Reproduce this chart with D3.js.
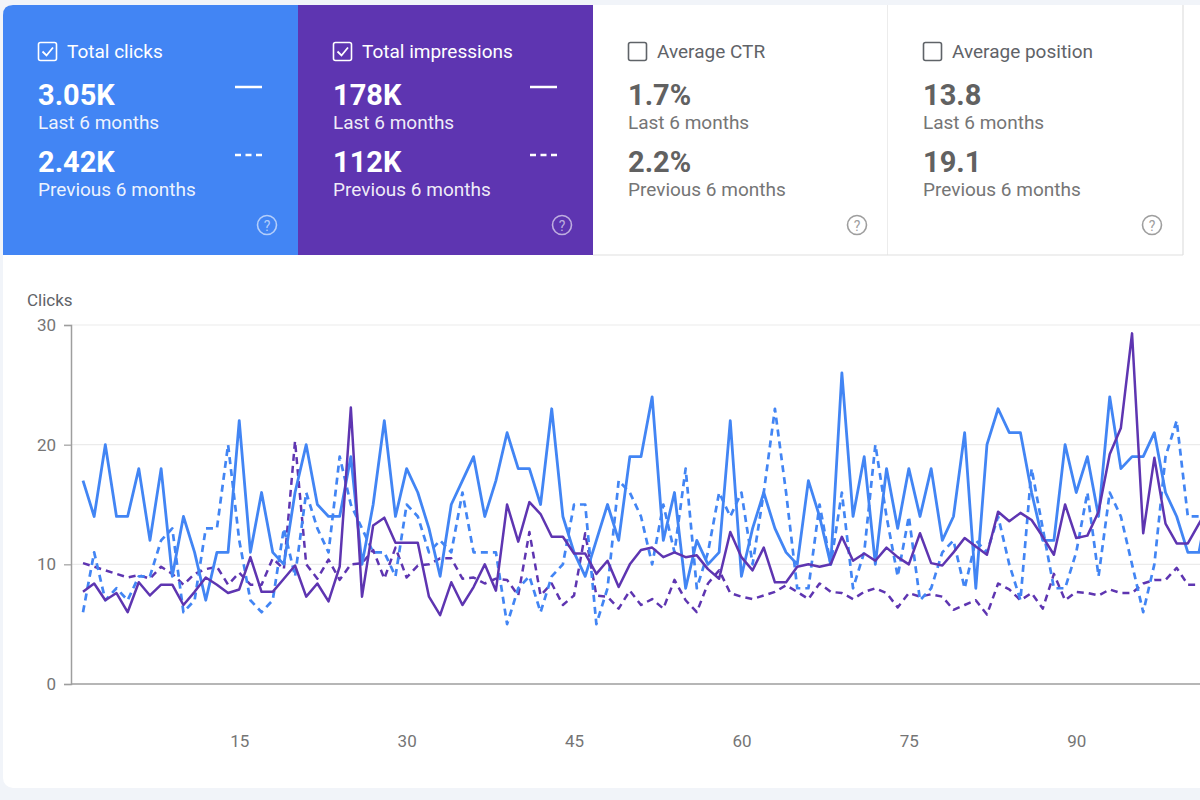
<!DOCTYPE html>
<html><head><meta charset="utf-8">
<script src="https://cdn.jsdelivr.net/npm/d3@7"></script>
<style>
html,body{margin:0;padding:0;background:#f1f4f9;overflow:hidden}
svg{display:block;font-family:Roboto,"Noto Sans",Arial,sans-serif}
</style></head><body>
<svg id="chart" width="1200" height="800"></svg>
<script>
// ---- summary cards ----
const metricNames = ["Total clicks", "Total impressions", "Average CTR", "Average position"];
const currentValues = ["3.05K", "178K", "1.7%", "13.8"];
const previousValues = ["2.42K", "112K", "2.2%", "19.1"];
const periodLabels = ["Last 6 months", "Previous 6 months"];
const selectedMetrics = [true, true, false, false];

// ---- daily series ----
const clicksCurrent = [17,14,20,14,14,18,12,18,9,14,11,7,11,11,22,11,16,11,10,16,20,15,14,14,19,10,15,22,14,18,16,13,9,15,17,19,14,17,21,18,18,15,23,14,11,9,12,15,12,19,19,24,12,16,8,12,10,11,22,9,13,16,13,11,10,17,14,10,26,14,19,10,18,13,18,14,18,12,14,21,8,20,23,21,21,16,12,12,20,16,19,14,24,18,19,19,21,16,14,11,11,16];
const clicksPrevious = [6,11,7,8,7,9,9,12,13,6,7,13,13,20,12,7,6,7,13,9,16,13,11,19,15,13,11,11,9,15,14,11,12,11,16,11,11,11,5,8,9,6,9,10,15,15,5,8,17,16,14,10,15,11,18,8,11,16,14,16,10,16,23,16,8,8,15,10,16,8,11,20,14,9,14,7,8,11,12,8,12,11,14,10,7,18,13,8,8,11,16,9,16,14,10,6,10,19,22,14,14,14];
const impressionsCurrent = [770,840,700,760,600,850,740,830,830,660,770,890,830,760,790,1060,770,770,880,990,730,840,690,980,2310,730,1325,1390,1180,1180,1180,730,575,850,660,810,1000,780,1500,1190,1520,1420,1230,1230,1090,1090,920,1030,810,1000,1120,1140,1060,1100,1060,1075,960,880,1270,1060,950,1140,850,850,980,1000,980,1000,1230,1030,1090,1030,1140,1060,1000,1260,1010,990,1100,1220,1150,1080,1440,1360,1430,1370,1230,1080,1500,1220,1240,1440,1920,2140,2930,1260,1890,1340,1175,1175,1340,1500];
const impressionsPrevious = [1010,980,950,920,890,910,880,980,920,830,920,960,980,830,930,830,830,1050,960,2030,1000,880,1040,870,1000,1010,1120,880,1140,890,990,1000,1050,1050,880,890,840,880,870,740,1270,740,840,660,740,1260,740,730,630,780,660,710,630,870,700,600,840,950,760,730,710,740,770,825,770,710,840,770,760,710,770,800,760,640,760,730,750,730,620,660,700,580,840,790,700,760,630,920,700,770,760,740,790,760,760,840,870,870,970,830,830,830];
const xTickValues = [15, 30, 45, 60, 75, 90];
const yTickValues = [0, 10, 20, 30];

const BLUE = "#4285f4", PURPLE = "#5e35b1";
const FONT = "Roboto, 'Noto Sans', Arial, sans-serif";
const svg = d3.select("#chart");

// outer white panel
svg.append("rect").attr("x", 3).attr("y", 5).attr("width", 1220).attr("height", 783)
  .attr("rx", 10).attr("fill", "#ffffff");

// cards
const cardW = 295, cardH = 250, cardX0 = 3, cardY0 = 5;
const cardFill = [BLUE, PURPLE, "#ffffff", "#ffffff"];
const cards = svg.selectAll("g.card").data(metricNames).join("g")
  .attr("class", "card")
  .attr("transform", (d, i) => `translate(${cardX0 + i * cardW},${cardY0})`);

cards.each(function(name, i) {
  const g = d3.select(this);
  const sel = selectedMetrics[i];
  const fg = sel ? "#ffffff" : "#616161";
  const fgSub = sel ? "rgba(255,255,255,0.92)" : "#757575";
  if (i === 0) {
    g.append("path").attr("d", `M0,${cardH} V10 Q0,0 10,0 H${cardW} V${cardH} Z`).attr("fill", cardFill[i]);
  } else {
    g.append("rect").attr("width", cardW).attr("height", cardH).attr("fill", cardFill[i]);
  }
  if (!sel) {
    g.append("line").attr("x1", cardW).attr("x2", cardW).attr("y1", 0).attr("y2", cardH)
      .attr("stroke", "#e0e0e0").attr("stroke-width", 1.2);
    g.append("line").attr("x1", 0).attr("x2", cardW).attr("y1", cardH).attr("y2", cardH)
      .attr("stroke", "#e0e0e0").attr("stroke-width", 1.2);
  }
  // checkbox
  g.append("rect").attr("x", 35.5).attr("y", 37.5).attr("width", 18).attr("height", 18).attr("rx", 2)
    .attr("fill", "none").attr("stroke", sel ? "#ffffff" : "#5f6368").attr("stroke-width", 1.6);
  if (sel) {
    g.append("path").attr("d", "M39.5,46.5 L43.5,50.5 L50,42.5").attr("fill", "none")
      .attr("stroke", "#ffffff").attr("stroke-width", 1.8);
  }
  g.append("text").attr("x", 64).attr("y", 53).attr("font-size", 19).attr("fill", sel ? "#ffffff" : "#5f6368").text(name);
  g.append("text").attr("x", 35).attr("y", 100).attr("font-size", 29).attr("font-weight", 700)
    .attr("fill", fg).text(currentValues[i]);
  g.append("text").attr("x", 35).attr("y", 124).attr("font-size", 19).attr("fill", fgSub).text(periodLabels[0]);
  g.append("text").attr("x", 35).attr("y", 167).attr("font-size", 29).attr("font-weight", 700)
    .attr("fill", fg).text(previousValues[i]);
  g.append("text").attr("x", 35).attr("y", 191).attr("font-size", 19).attr("fill", fgSub).text(periodLabels[1]);
  if (sel) {
    g.append("line").attr("x1", 232).attr("x2", 259).attr("y1", 82).attr("y2", 82)
      .attr("stroke", "#ffffff").attr("stroke-width", 2.5);
    g.append("line").attr("x1", 232).attr("x2", 259).attr("y1", 150).attr("y2", 150)
      .attr("stroke", "#ffffff").attr("stroke-width", 2.5).attr("stroke-dasharray", "6,4.5");
  }
  const hc = sel ? "rgba(255,255,255,0.6)" : "#9e9e9e";
  g.append("circle").attr("cx", 264).attr("cy", 220).attr("r", 9.5).attr("fill", "none")
    .attr("stroke", hc).attr("stroke-width", 1.6);
  g.append("text").attr("x", 264).attr("y", 225.5).attr("text-anchor", "middle").attr("font-size", 14)
    .attr("fill", hc).text("?");
});

// ---- chart ----
const days = clicksCurrent.map((_, i) => i + 1);
const x = d3.scaleLinear().domain([1, 102]).range([83, 83 + 101 * 11.16]);
const yClicks = d3.scaleLinear().domain([0, 30]).range([684, 325]);
const yImpr = d3.scaleLinear().domain([0, 3000]).range([684, 325]);

// grid
svg.append("g").selectAll("line").data(yTickValues.filter(v => v > 0)).join("line")
  .attr("x1", 71).attr("x2", 1200).attr("y1", d => yClicks(d)).attr("y2", d => yClicks(d))
  .attr("stroke", "#ebebeb").attr("stroke-width", 1.2);

// y axis
const yAxisG = svg.append("g").attr("transform", "translate(71,0)")
  .call(d3.axisLeft(yClicks).tickValues(yTickValues).tickSize(7).tickPadding(8).tickFormat(d3.format("d")));
yAxisG.select(".domain").attr("stroke", "#9e9e9e").attr("stroke-width", 1.5);
yAxisG.selectAll(".tick line").attr("stroke", "#9e9e9e").attr("stroke-width", 1.2);
yAxisG.selectAll(".tick text").attr("font-size", 17).attr("fill", "#757575").attr("font-family", FONT);

// x axis
const xAxisG = svg.append("g").attr("transform", "translate(0,684)")
  .call(d3.axisBottom(x).tickValues(xTickValues).tickSize(0).tickPadding(51).tickFormat(d3.format("d")));
xAxisG.select(".domain").remove();
xAxisG.selectAll(".tick text").attr("font-size", 17).attr("fill", "#757575").attr("font-family", FONT);
svg.append("line").attr("x1", 71).attr("x2", 1200).attr("y1", 684).attr("y2", 684)
  .attr("stroke", "#9e9e9e").attr("stroke-width", 1.5);

svg.append("text").attr("x", 27).attr("y", 306).attr("font-size", 17).attr("fill", "#5f6368").text("Clicks");

// lines
const lineClicks = d3.line().x((d, i) => x(days[i])).y(d => yClicks(d));
const lineImpr = d3.line().x((d, i) => x(days[i])).y(d => yImpr(d));
const series = [
  { values: impressionsPrevious, gen: lineImpr, color: PURPLE, dash: "7,5", w: 2.5 },
  { values: clicksPrevious, gen: lineClicks, color: BLUE, dash: "7,5", w: 2.7 },
  { values: clicksCurrent, gen: lineClicks, color: BLUE, dash: null, w: 2.8 },
  { values: impressionsCurrent, gen: lineImpr, color: PURPLE, dash: null, w: 2.5 }
];
svg.append("g").selectAll("path").data(series).join("path")
  .attr("d", s => s.gen(s.values))
  .attr("fill", "none")
  .attr("stroke", s => s.color)
  .attr("stroke-width", s => s.w)
  .attr("stroke-linejoin", "round")
  .attr("stroke-dasharray", s => s.dash);
</script>
</body></html>
